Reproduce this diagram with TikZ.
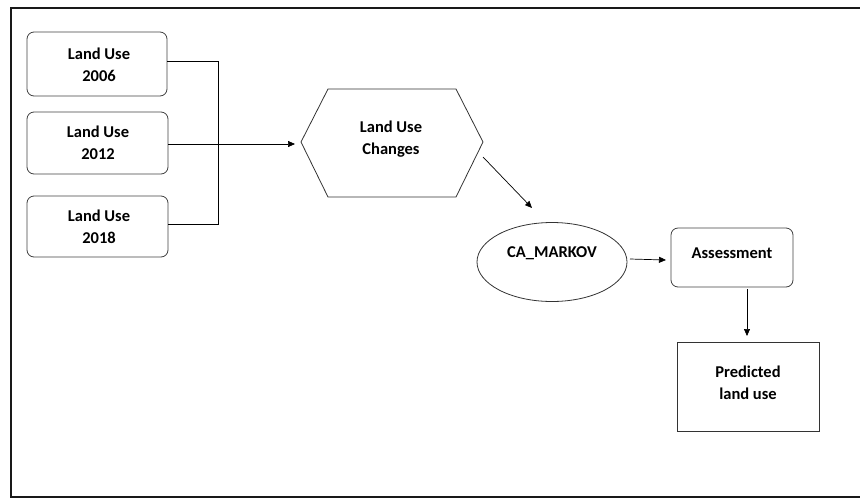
\documentclass[tikz,border=0pt]{standalone}
\usepackage{fontspec}
\setmainfont{Carlito}
\usetikzlibrary{arrows.meta}
\begin{document}
\begin{tikzpicture}[x=1pt,y=-1pt,
  lbl/.style={font=\bfseries\fontsize{16.5}{21.5}\selectfont, align=center, inner sep=0pt},
  rbox/.style={draw=black!75, line width=0.8pt, rounded corners=7pt},
  sbox/.style={draw=black!80, line width=0.9pt},
  conn/.style={draw=black, line width=0.7pt},
  arr/.style={conn, -{Triangle[length=7pt,width=6pt]}}]
\useasboundingbox (0,0) rectangle (860,499);
% frame
\draw[line width=2.6pt, black!90] (862,8) -- (11,8) -- (11,497) -- (862,497);
% input boxes
\draw[rbox] (27,32) rectangle (167,96);
\node[lbl] (b1) at (99,65) {Land Use\\2006};
\coordinate (b1e) at (167,61);
\draw[rbox] (27,112) rectangle (168,174);
\node[lbl] (b2) at (98,143) {Land Use\\2012};
\coordinate (b2e) at (168,144);
\draw[rbox] (27,196) rectangle (168,257);
\node[lbl] (b3) at (99,227) {Land Use\\2018};
\coordinate (b3e) at (168,224);
% bracket
\coordinate (jt) at (218,61);
\coordinate (jm) at (218,144);
\coordinate (jb) at (218,224);
\draw[conn] (b1e) -- (jt) -- (jb) -- (b3e);
\draw[conn] (b2e) -- (jm);
% hexagon
\draw[sbox, line width=0.8pt] (301,142) -- (328,89) -- (456,89) -- (483,142) -- (456,197) -- (328,197) -- cycle;
\node[lbl] (hex) at (391,139) {Land Use\\Changes};
\coordinate (hexL) at (295,144);
\draw[arr] (jm) -- (hexL);
% ellipse
\draw[draw=black!80, line width=0.8pt] (552,262) ellipse [x radius=75, y radius=39.5];
\node[lbl] (ca) at (552,253) {CA\_MARKOV};
\coordinate (hexR) at (483,157);
\coordinate (caT) at (532,208);
\draw[arr] (hexR) -- (caT);
% assessment
\draw[rbox] (671,228) rectangle (793,287);
\node[lbl] (as) at (732,253) {Assessment};
\coordinate (caR) at (630,259);
\coordinate (asL) at (666,260);
\draw[arr] (caR) -- (asL);
% predicted
\draw[sbox] (677,342) rectangle (819,431);
\node[lbl] (pr) at (748,383) {Predicted\\land use};
\coordinate (asB) at (747,289);
\coordinate (prT) at (747,336);
\draw[arr] (asB) -- (prT);
\end{tikzpicture}
\end{document}
